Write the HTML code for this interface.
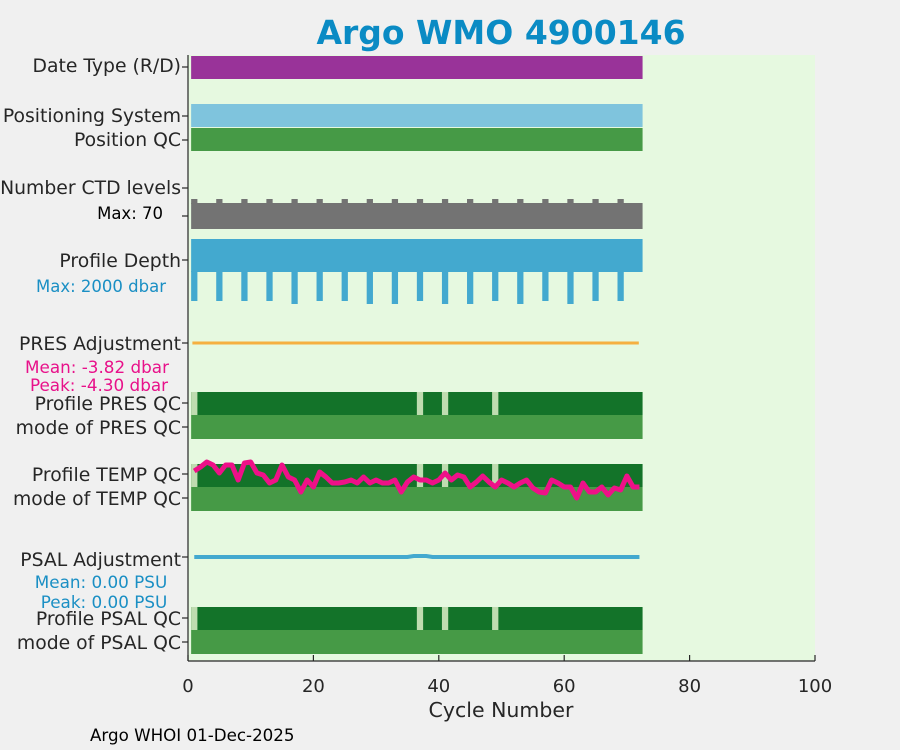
<!DOCTYPE html>
<html><head><meta charset="utf-8"><style>
html,body{margin:0;padding:0;background:#f0f0f0;}
svg{display:block;font-family:"DejaVu Sans","Liberation Sans",sans-serif;}
</style></head><body>
<svg id="chart" width="900" height="750" viewBox="0 0 900 750" xmlns="http://www.w3.org/2000/svg">
<rect x="0" y="0" width="900" height="750" fill="#f0f0f0"/>
<text x="501" y="44" text-anchor="middle" font-size="33" font-weight="bold" fill="#0a8bc4">Argo WMO 4900146</text>
<rect x="188" y="55" width="627" height="606" fill="#e6f9e0"/>
<g id="marks"></g>
<g id="axes"></g>
<g font-size="18.8" fill="#262626" text-anchor="end">
<text x="181" y="72">Date Type (R/D)</text>
<text x="181" y="122">Positioning System</text>
<text x="181" y="146">Position QC</text>
<text x="181" y="194">Number CTD levels</text>
<text x="181" y="267">Profile Depth</text>
<text x="181" y="350">PRES Adjustment</text>
<text x="181" y="410">Profile PRES QC</text>
<text x="181" y="434">mode of PRES QC</text>
<text x="181" y="481">Profile TEMP QC</text>
<text x="181" y="505">mode of TEMP QC</text>
<text x="181" y="566">PSAL Adjustment</text>
<text x="181" y="625">Profile PSAL QC</text>
<text x="181" y="649">mode of PSAL QC</text>
</g>
<text x="163" y="219" font-size="16.5" text-anchor="end" fill="#000">Max: 70</text>
<text x="166" y="292" font-size="16.5" text-anchor="end" fill="#1a8fc4">Max: 2000 dbar</text>
<text x="97" y="373" font-size="16.8" text-anchor="middle" fill="#e8118a">Mean: -3.82 dbar</text>
<text x="99" y="391" font-size="16.8" text-anchor="middle" fill="#e8118a">Peak: -4.30 dbar</text>
<text x="101" y="588" font-size="16.8" text-anchor="middle" fill="#1a8fc4">Mean: 0.00 PSU</text>
<text x="104" y="608" font-size="16.8" text-anchor="middle" fill="#1a8fc4">Peak: 0.00 PSU</text>
<text x="501" y="717" font-size="20.5" text-anchor="middle" fill="#262626">Cycle Number</text>
<text x="90" y="741" font-size="16.7" fill="#000">Argo WHOI 01-Dec-2025</text>
</svg>
<script>
const xTicks = [0, 20, 40, 60, 80, 100];
const nCycles = 72;
const badQcCycles = [1, 37, 41, 49];
const ctdTallCycles = [1,5,9,13,17,21,25,29,33,37,41,45,49,53,57,61,65,69];
const depthSpikeCycles = [1,5,9,13,17,21,25,29,33,37,41,45,49,53,57,61,65,69];
const depthDeepCycles = [17,29,33,41,45,53,61];
// temperature-adjustment trace offsets (px-equivalent units within TEMP band)
const tempValues = [21,17,12,15,23,15,15,30,13,12,23,25,33,30,15,27,30,42,30,37,22,27,33,33,32,30,33,27,33,30,33,33,30,42,32,27,30,30,33,30,23,30,25,27,37,32,26,32,37,30,33,37,33,30,38,42,43,30,33,37,37,48,33,42,42,37,45,38,40,26,37,37];
const psalAdjValues = Array.from({length:72},(_, i)=> (i>=35 && i<=37) ? 0.5 : 0);

const NS = "http://www.w3.org/2000/svg";
const marks = document.getElementById('marks');
const axes = document.getElementById('axes');
const X = v => 188 + v * 6.27;
function add(parent, tag, attrs){ const e=document.createElementNS(NS,tag); for(const k in attrs) e.setAttribute(k,attrs[k]); parent.appendChild(e); return e; }

function band(name, y0, y1, color){
  const r = add(marks,'rect',{x:X(0.5),y:y0,width:X(nCycles+0.5)-X(0.5),height:y1-y0,fill:color});
  
  
}
band('date-type-bar',56,79,'#993399');
band('positioning-system-bar',104,127,'#7fc4dd');
band('position-qc-bar',128,151,'#469a46');
band('ctd-levels-bar',203,229,'#737373');
band('profile-depth-bar',239,272,'#43a9cf');
[[392,415,'pres'],[464,487,'temp'],[607,630,'psal']].forEach(([a,b,n])=>{
  band('profile-'+n+'-qc-bar',a,b,'#137329');
  band('mode-'+n+'-qc-bar',b,b+24,'#469a46');
  badQcCycles.forEach(c=>{
    const r = add(marks,'rect',{x:X(c-0.5),y:a,width:6.27,height:b-a,fill:'#bfdcb0'});
    
    
  });
});
ctdTallCycles.forEach(c=>{
  const r = add(marks,'rect',{x:X(c-0.5),y:199,width:6.27,height:5,fill:'#737373'});
  
  
});
depthSpikeCycles.forEach(c=>{
  const deep = depthDeepCycles.includes(c);
  const r = add(marks,'rect',{x:X(c-0.5),y:271,width:6.27,height:deep?33:30,fill:'#43a9cf'});
  
  
});
const pl = add(marks,'line',{x1:X(0.7),x2:X(71.9),y1:343,y2:343,stroke:'#f5b041','stroke-width':3});


const sp = add(marks,'polyline',{points:psalAdjValues.map((v,i)=>X(i+1)+','+(557-v*2)).join(' '),fill:'none',stroke:'#43a9cf','stroke-width':4});


const tl = add(marks,'polyline',{points:tempValues.map((v,i)=>X(i+1)+','+(450+v)).join(' '),fill:'none',stroke:'#ee1188','stroke-width':5,'stroke-linejoin':'round'});



const ya = add(axes,'line',{x1:188,x2:188,y1:55,y2:661,stroke:'#262626','stroke-width':1.2});


const xa = add(axes,'line',{x1:188,x2:815,y1:661,y2:661,stroke:'#262626','stroke-width':1.2});


[67,116,140,188,216,260,343,403,427,474,498,557,618,642].forEach(y=>{
  const t = add(axes,'line',{x1:182,x2:188,y1:y,y2:y,stroke:'#262626','stroke-width':1.2});
  
  
});
xTicks.forEach(v=>{
  const t = add(axes,'line',{x1:X(v),x2:X(v),y1:655,y2:661,stroke:'#262626','stroke-width':1.2});
  
  
  const l = add(axes,'text',{x:X(v),y:692,'font-size':18,'text-anchor':'middle',fill:'#262626'});
  l.textContent = v;
  
  
});
</script>
</body></html>
